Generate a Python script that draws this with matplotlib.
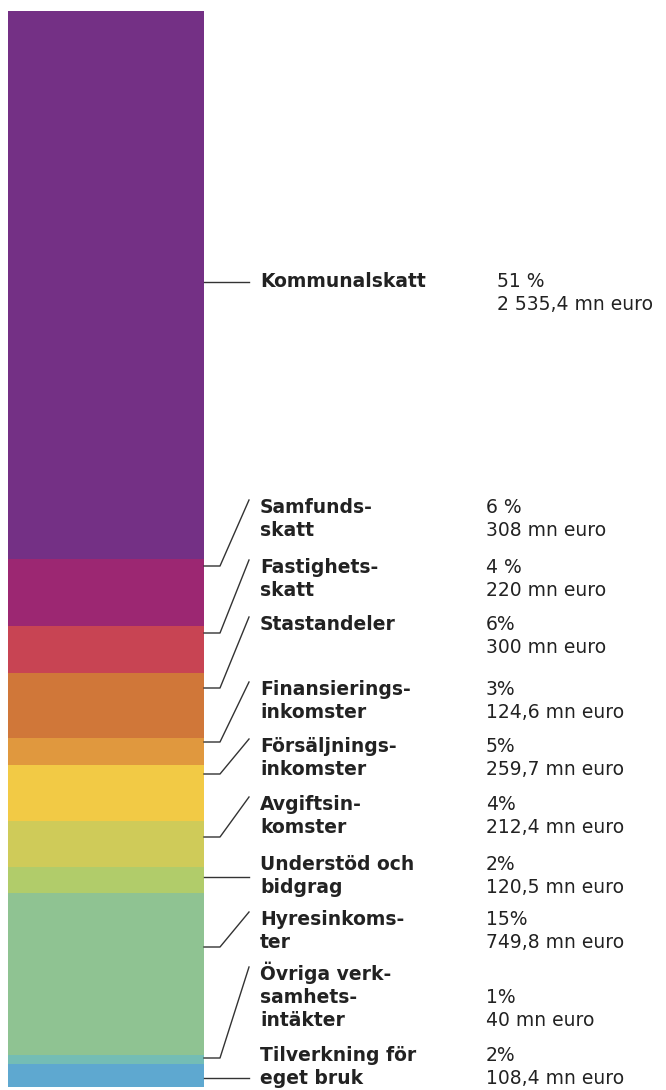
import matplotlib
matplotlib.use('Agg')
import matplotlib.pyplot as plt

plt.rcParams['font.family'] = ['DejaVu Sans']

# ========== 数据 ==========
categories = ['Kommunalskatt', 'Samfundsskatt', 'Fastighetsskatt', 'Stastandeler',
              'Finansieringsinkomster', 'Försäljningsinkomster', 'Avgiftsinkomster',
              'Understöd och bidgrag', 'Hyresinkomster', 'Övriga verksamhetsintäkter',
              'Tilverkning för eget bruk']
values = [2535.4, 308, 220, 300, 124.6, 259.7, 212.4, 120.5, 749.8, 40, 108.4]
label_lines = [['Kommunalskatt'], ['Samfunds-', 'skatt'], ['Fastighets-', 'skatt'],
               ['Stastandeler'], ['Finansierings-', 'inkomster'],
               ['Försäljnings-', 'inkomster'], ['Avgiftsin-', 'komster'],
               ['Understöd och', 'bidgrag'], ['Hyresinkoms-', 'ter'],
               ['Övriga verk-', 'samhets-', 'intäkter'], ['Tilverkning för', 'eget bruk']]
pct_labels = ['51 %', '6 %', '4 %', '6%', '3%', '5%', '4%', '2%', '15%', '1%', '2%']
amount_labels = ['2 535,4 mn euro', '308 mn euro', '220 mn euro', '300 mn euro',
                 '124,6 mn euro', '259,7 mn euro', '212,4 mn euro', '120,5 mn euro',
                 '749,8 mn euro', '40 mn euro', '108,4 mn euro']
colors = ['#743085', '#9C2772', '#C84453', '#D07739', '#E0983E', '#F2CA45',
          '#CFCB59', '#B1CC6A', '#8FC392', '#74BDB5', '#5EA8D0']

# ========== 布局（像素） ==========
W, H = 666, 1090
bar_left, bar_right, bar_top, bar_bottom = 8, 204, 11, 1087
# 每个标签：首行基线 y、连接线在柱上的 y、值文本起始行
label_base = [287, 513, 573, 630, 695, 752, 810, 870, 925, 980, 1061]
attach_y = [282, 566, 633, 688, 742, 774, 837, 877, 947, 1058, 1078]
value_line0 = [0, 0, 0, 0, 0, 0, 0, 0, 0, 1, 0]
line_gap = 23
label_x = 260
value_x = [497] + [486] * 10
elbow_x, end_x = 220, 249
text_color = '#222222'
fs = 13.5

fig = plt.figure(figsize=(W / 100, H / 100), dpi=100)

# -------- 堆叠柱 --------
ax = fig.add_axes([bar_left / W, (H - bar_bottom) / H,
                   (bar_right - bar_left) / W, (bar_bottom - bar_top) / H])
bottom = 0
for v, c in zip(values, colors):
    ax.bar(0, v, bottom=bottom, width=1, color=c, linewidth=0)
    bottom += v
ax.set_xlim(-0.5, 0.5)
ax.set_ylim(sum(values), 0)
ax.axis('off')

# -------- 标签与连接线 --------
ov = fig.add_axes([0, 0, 1, 1])
ov.set_xlim(0, W)
ov.set_ylim(H, 0)
ov.axis('off')

for i in range(len(categories)):
    y0 = label_base[i]
    for k, line in enumerate(label_lines[i]):
        ov.text(label_x, y0 + k * line_gap, line, fontsize=fs, fontweight='bold',
                color=text_color, va='baseline', ha='left')
    vy = y0 + value_line0[i] * line_gap
    ov.text(value_x[i], vy, pct_labels[i], fontsize=fs, color=text_color,
            va='baseline', ha='left')
    ov.text(value_x[i], vy + line_gap, amount_labels[i], fontsize=fs,
            color=text_color, va='baseline', ha='left')

    ay = attach_y[i]
    top_y = y0 - 13
    if i in (0, 7, 10):
        ov.plot([bar_right, end_x], [ay, ay], color='#333333', lw=1.0)
    else:
        ov.plot([bar_right, elbow_x, end_x], [ay, ay, top_y], color='#333333', lw=1.0)

fig.savefig('out.png', dpi=100)
